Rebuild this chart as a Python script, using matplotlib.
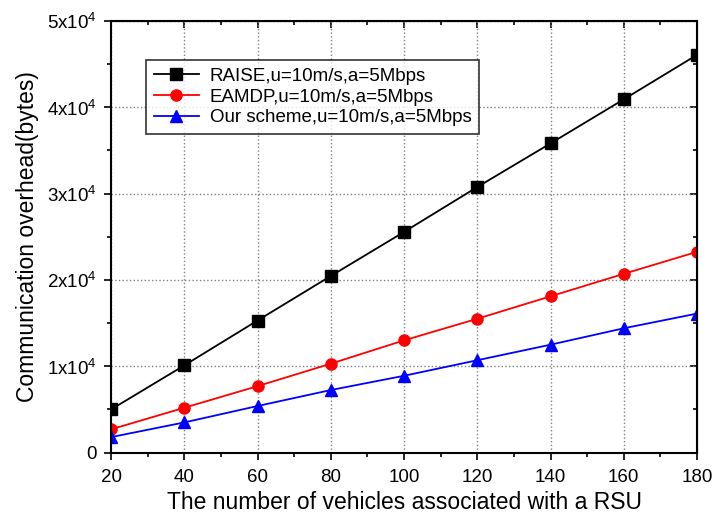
import numpy as np
import matplotlib.pyplot as plt
from matplotlib.ticker import MultipleLocator, FuncFormatter

plt.rcParams['font.family'] = ['Liberation Sans', 'DejaVu Sans']
plt.rcParams['mathtext.fontset'] = 'custom'
plt.rcParams['mathtext.rm'] = 'Liberation Sans'

# Datos
vehicles = [20, 40, 60, 80, 100, 120, 140, 160, 180]
raise_overhead = [5000, 10100, 15300, 20450, 25550, 30750, 35800, 40900, 46050]
eamdp_overhead = [2700, 5200, 7700, 10300, 13000, 15500, 18100, 20700, 23250]
ours_overhead = [1800, 3500, 5400, 7250, 8900, 10700, 12500, 14400, 16100]

labels = ['RAISE,u=10m/s,a=5Mbps',
          'EAMDP,u=10m/s,a=5Mbps',
          'Our scheme,u=10m/s,a=5Mbps']


def y_fmt(v, pos):
    if v == 0:
        return '0'
    return r'$%d\mathregular{x}10^4$' % round(v / 1e4)


fig = plt.figure(figsize=(7.13, 5.22), dpi=100)
ax = fig.add_axes([0.1557, 0.1328, 0.8219, 0.8275])

ax.plot(vehicles, raise_overhead, color='black', marker='s', ms=8, lw=1.3,
        label=labels[0])
ax.plot(vehicles, eamdp_overhead, color='red', marker='o', ms=8, lw=1.3,
        label=labels[1])
ax.plot(vehicles, ours_overhead, color='blue', marker='^', ms=8, lw=1.3,
        label=labels[2])

ax.set_xlim(20, 180)
ax.set_ylim(0, 50000)
ax.xaxis.set_major_locator(MultipleLocator(20))
ax.xaxis.set_minor_locator(MultipleLocator(10))
ax.yaxis.set_major_locator(MultipleLocator(10000))
ax.yaxis.set_minor_locator(MultipleLocator(5000))
ax.yaxis.set_major_formatter(FuncFormatter(y_fmt))

ax.tick_params(which='both', direction='out', labelsize=13.5, width=1.2)
ax.tick_params(which='major', length=5)
ax.tick_params(which='minor', length=3)
ax.tick_params(axis='x', pad=7)
ax.tick_params(axis='y', pad=5)

# ticks espelhados (para dentro) no topo e à direita
top = ax.secondary_xaxis('top')
top.xaxis.set_major_locator(MultipleLocator(20))
top.xaxis.set_minor_locator(MultipleLocator(10))
top.tick_params(which='both', direction='in', labeltop=False, width=1.2)
top.tick_params(which='major', length=5)
top.tick_params(which='minor', length=3)
right = ax.secondary_yaxis('right')
right.yaxis.set_major_locator(MultipleLocator(10000))
right.yaxis.set_minor_locator(MultipleLocator(5000))
right.tick_params(which='both', direction='in', labelright=False, width=1.2)
right.tick_params(which='major', length=5)
right.tick_params(which='minor', length=3)

for sp in ax.spines.values():
    sp.set_linewidth(1.5)

ax.grid(True, which='major', linestyle=':', color='gray', linewidth=1.0)

ax.set_xlabel('The number of vehicles associated with a RSU', fontsize=16.5,
              labelpad=3)
ax.set_ylabel('Communication overhead(bytes)', fontsize=16.5, labelpad=6)

leg = ax.legend(loc='upper left', bbox_to_anchor=(0.06, 0.909), fontsize=13.5,
                frameon=True, fancybox=False, edgecolor='black',
                borderaxespad=0, handlelength=2.4, handletextpad=0.6,
                borderpad=0.4, labelspacing=0.2)
leg.get_frame().set_linewidth(1.2)

fig.savefig('out.png', dpi=100)
